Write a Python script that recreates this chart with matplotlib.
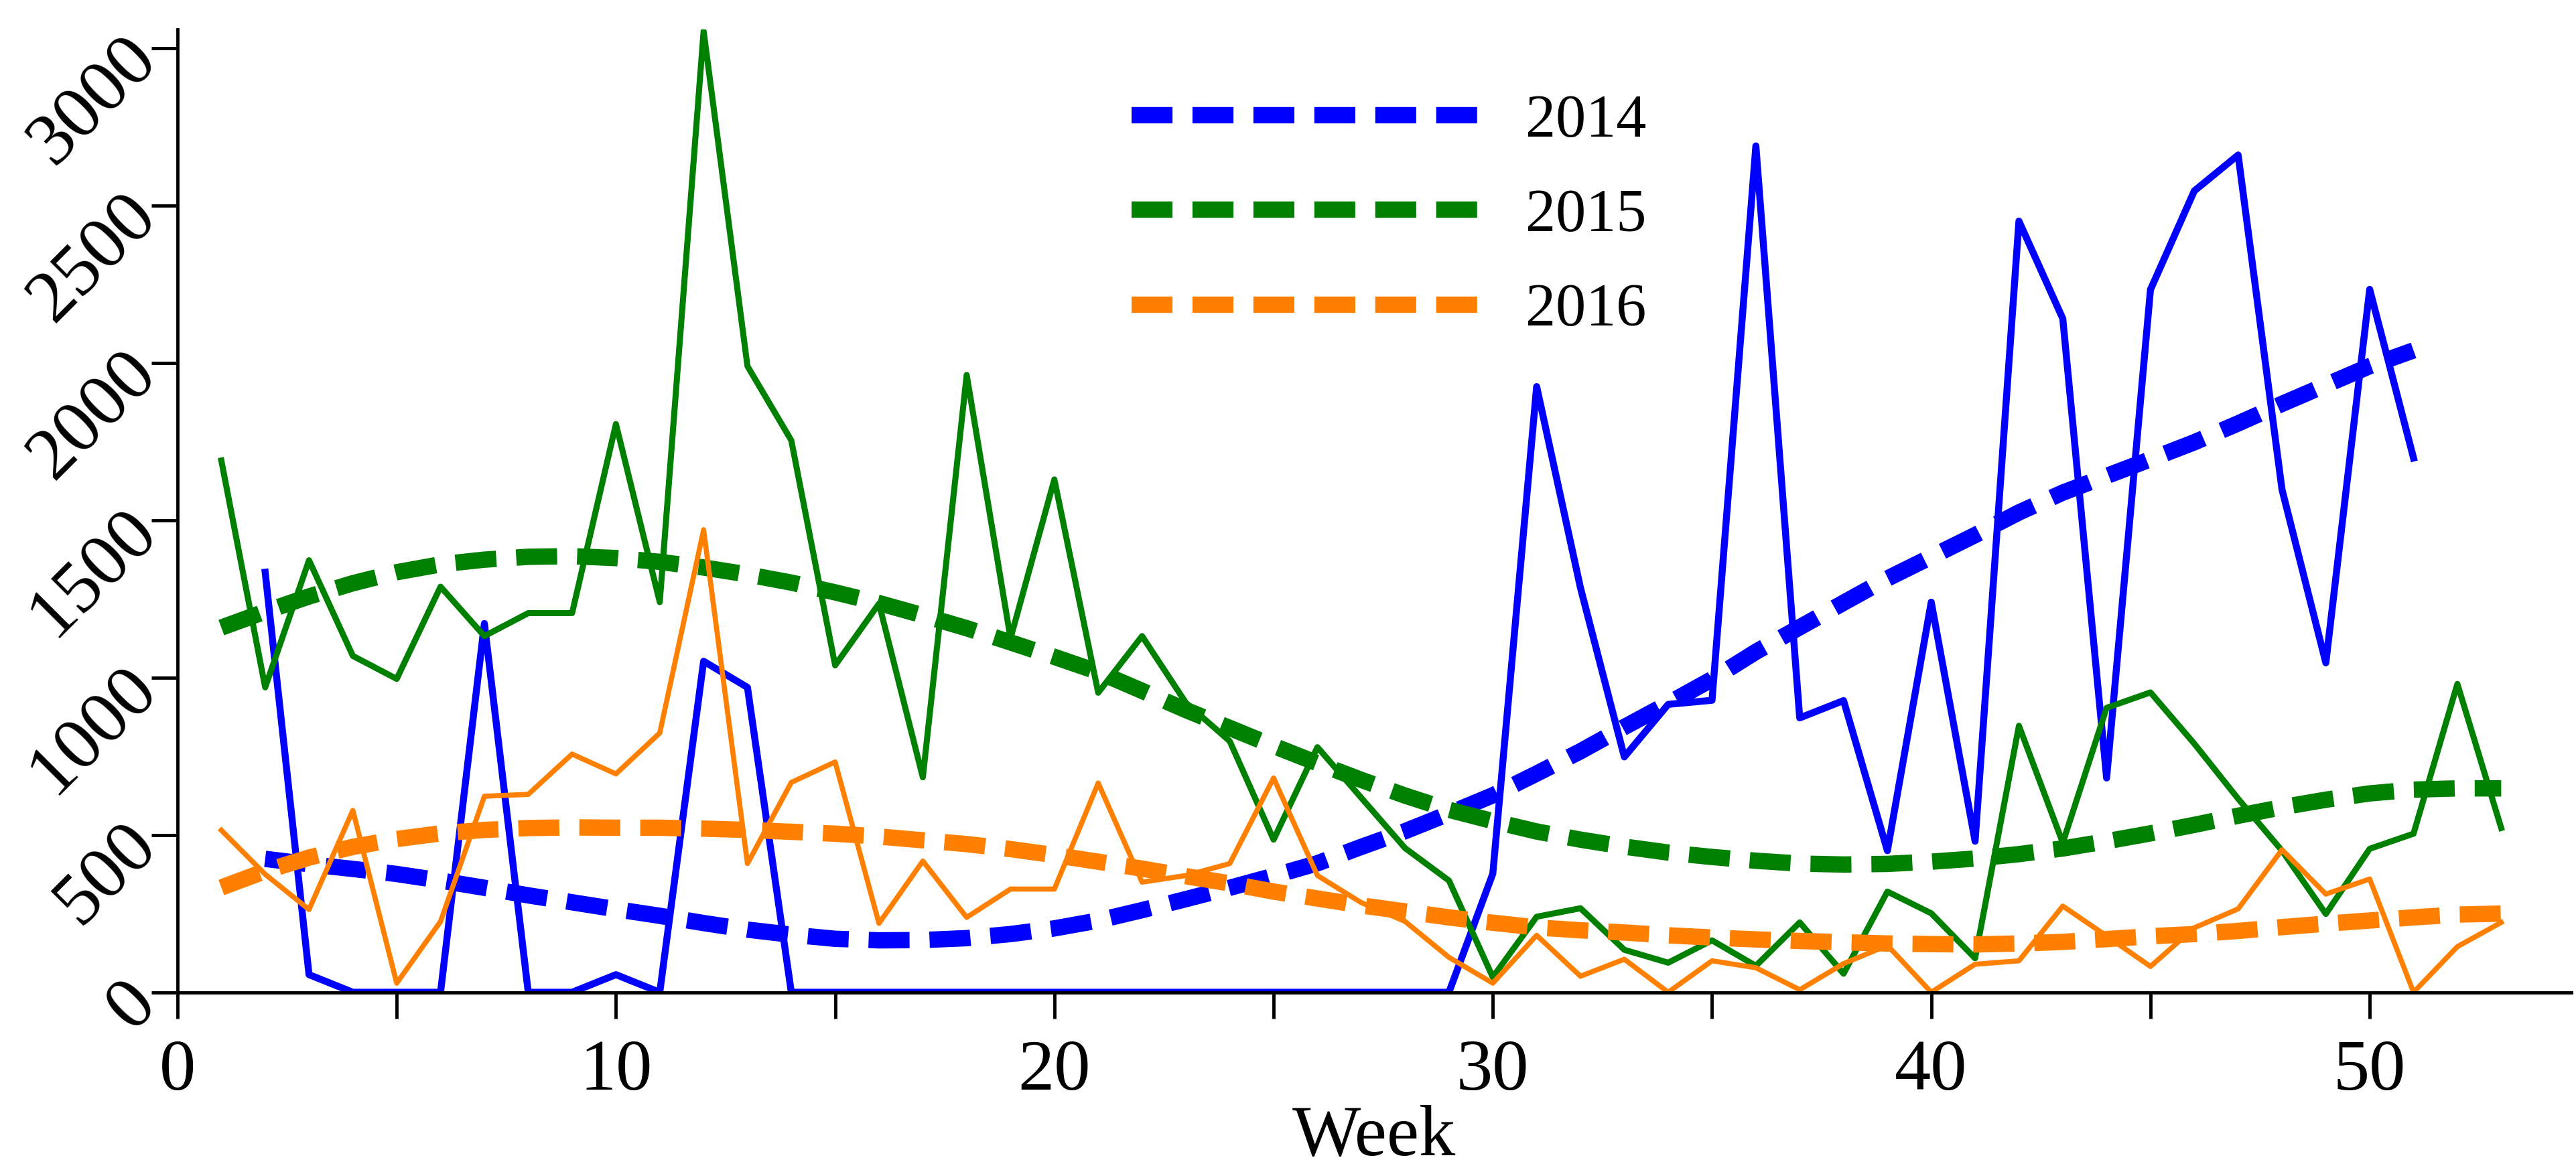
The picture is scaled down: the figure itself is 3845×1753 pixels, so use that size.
import matplotlib
matplotlib.use("Agg")
import matplotlib.pyplot as plt
from matplotlib.ticker import MultipleLocator
import numpy as np

plt.rcParams['font.family'] = ['Liberation Serif', 'DejaVu Serif']

# weekly counts
weeks_2014 = list(range(2, 52))
vals_2014 = [1335, 56, 0, 0, 0, 1172, 0, 0, 56, 0,
             1052, 969, 0, 0, 0, 0, 0, 0, 0, 0,
             0, 0, 0, 0, 0, 0, 0, 0, 377, 1925,
             1285, 748, 915, 928, 2690, 872, 927, 450, 1240, 480,
             2451, 2141, 681, 2233, 2547, 2661, 1598, 1047, 2234, 1698]
trend_2014 = [424, 407, 392, 376, 355, 332, 308, 286, 264, 243,
              220, 199, 183, 170, 165, 166, 172, 185, 203, 228,
              261, 296, 332, 370, 410, 462, 512, 568, 626, 695,
              766, 843, 918, 995, 1082, 1160, 1238, 1315, 1384, 1453,
              1525, 1588, 1641, 1694, 1748, 1808, 1870, 1930, 1990, 2040]

weeks_2015 = list(range(1, 54))
vals_2015 = [1690, 969, 1373, 1069, 996, 1289, 1132, 1205, 1205, 1806,
             1240, 3055, 1990, 1754, 1039, 1235, 683, 1962, 1125, 1630,
             952, 1132, 920, 798, 485, 779, 618, 458, 355, 48,
             240, 267, 135, 94, 165, 84, 222, 59, 320, 251,
             108, 847, 475, 904, 953, 790, 615, 450, 249, 456,
             504, 980, 522]
trend_2015 = [1159, 1210, 1258, 1300, 1335, 1360, 1375, 1384, 1386, 1380,
              1368, 1350, 1328, 1302, 1271, 1237, 1198, 1157, 1112, 1066,
              1018, 958, 897, 840, 783, 728, 675, 625, 580, 544,
              511, 485, 463, 444, 430, 418, 409, 406, 408, 415,
              425, 439, 457, 480, 505, 532, 561, 588, 612, 632,
              644, 648, 648]

weeks_2016 = list(range(1, 54))
vals_2016 = [515, 375, 263, 578, 29, 225, 623, 629, 757, 694,
             824, 1470, 409, 667, 732, 219, 417, 238, 328, 328,
             665, 350, 371, 409, 681, 371, 285, 225, 111, 29,
             181, 51, 105, 0, 100, 78, 8, 91, 149, 0,
             89, 100, 274, 179, 82, 205, 265, 453, 312, 360,
             0, 145, 222]
trend_2016 = [333, 385, 428, 462, 487, 505, 516, 522, 524, 523,
              523, 520, 516, 510, 504, 495, 483, 471, 455, 436,
              415, 393, 369, 346, 320, 298, 276, 257, 238, 221,
              206, 197, 190, 181, 174, 168, 163, 159, 155, 153,
              152, 155, 160, 169, 178, 185, 195, 207, 218, 228,
              238, 247, 250]

years = ["2014", "2015", "2016"]
colors = ["#0000ff", "#008000", "#ff8000"]
line_w = [7.5, 6.5, 5.5]
series = [(weeks_2014, vals_2014, trend_2014),
          (weeks_2015, vals_2015, trend_2015),
          (weeks_2016, vals_2016, trend_2016)]

fig = plt.figure(figsize=(38.45, 17.53), dpi=100)
ax = fig.add_axes([0.0689, 0.1548, 0.9293, 0.8201])

for (wk, val, tr), year, c, lw in zip(series, years, colors, line_w):
    ax.plot(wk, val, color=c, lw=lw, solid_joinstyle='round')
    ax.plot(wk, tr, color=c, lw=17.6, linestyle=(0, (2.5, 1.22)), label=year)

ax.set_xlim(0, 54.6)
ax.set_ylim(0, 3060)
ax.xaxis.set_major_locator(MultipleLocator(10))
ax.xaxis.set_minor_locator(MultipleLocator(5))
ax.yaxis.set_major_locator(MultipleLocator(500))

for s in ['top', 'right']:
    ax.spines[s].set_visible(False)
for s in ['left', 'bottom']:
    ax.spines[s].set_linewidth(3.5)

ax.tick_params(axis='both', which='both', direction='out', length=28, width=3.5)
ax.tick_params(axis='x', which='major', labelsize=78, pad=23)
ax.tick_params(axis='y', which='major', labelsize=80, pad=6)
for lab in ax.get_yticklabels():
    lab.set_rotation(45)
    lab.set_rotation_mode('anchor')
    lab.set_ha('right')
    lab.set_va('center')

ax.set_xlabel("Week", fontsize=78, labelpad=0)

ax.legend(loc='upper left', bbox_to_anchor=(0.3985, 0.933), frameon=False,
          fontsize=65, handlelength=5.83, handletextpad=0.68,
          labelspacing=0.65, borderpad=0, borderaxespad=0)

fig.savefig("out.png", dpi=100)
